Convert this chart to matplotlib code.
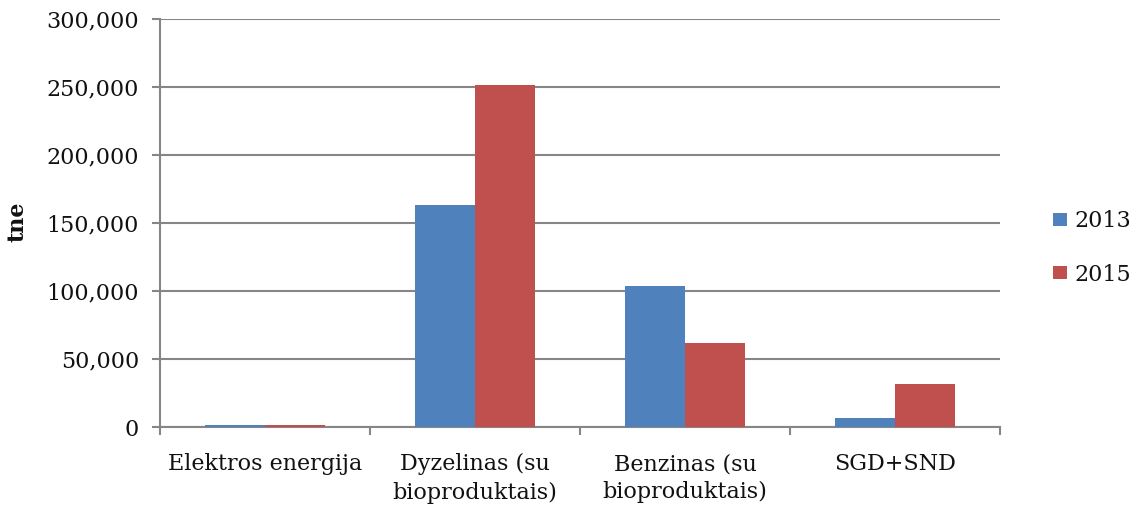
import numpy as np
import matplotlib.pyplot as plt
from matplotlib.ticker import FuncFormatter, FixedLocator

categories = ["Elektros energija", "Dyzelinas (su\nbioproduktais)",
              "Benzinas (su\nbioproduktais)", "SGD+SND"]
years = ["2013", "2015"]
values_2013 = [1500, 163500, 104000, 6500]
values_2015 = [1800, 251500, 62000, 31500]

colors = ["#4F81BD", "#C0504D"]
grid_color = "#868686"
text_color = "#111111"

plt.rcParams['font.family'] = ['DejaVu Serif']

W, H = 1141, 509
fig = plt.figure(figsize=(W / 100, H / 100), dpi=100)
ax = fig.add_axes([160 / W, 1 - 427 / H, 840 / W, 408 / H])

x = np.arange(len(categories))
w = 1 / 3.5
ax.bar(x - w / 2, values_2013, w, color=colors[0], label=years[0], zorder=3)
ax.bar(x + w / 2, values_2015, w, color=colors[1], label=years[1], zorder=3)

ax.set_xlim(-0.5, len(categories) - 0.5)
ax.set_ylim(0, 300000)
ax.set_yticks(np.arange(0, 300001, 50000))
ax.yaxis.set_major_formatter(FuncFormatter(lambda v, p: f"{int(v):,}"))
ax.yaxis.grid(True, color=grid_color, linewidth=1.5, zorder=0)

# category labels sit between the boundary ticks
ax.set_xticks(x)
ax.set_xticklabels(categories, fontsize=16, color=text_color, linespacing=1.35)
ax.tick_params(axis='x', length=0, pad=19)
ax.xaxis.set_minor_locator(FixedLocator(np.arange(-0.5, len(categories), 1)))
ax.tick_params(axis='x', which='minor', length=6, width=1.5, color=grid_color)
ax.tick_params(axis='y', length=6, width=1.5, color=grid_color,
               labelsize=16, labelcolor=text_color, pad=9)

for side in ['top', 'right']:
    ax.spines[side].set_visible(False)
for side in ['left', 'bottom']:
    ax.spines[side].set_color(grid_color)
    ax.spines[side].set_linewidth(1.5)

ax.set_ylabel("tne", fontsize=16, fontweight='bold', color=text_color)
ax.yaxis.set_label_coords(29 / W, 1 - 222 / H, transform=fig.transFigure)

ax.legend(loc='center left', bbox_to_anchor=(1053 / W, 1 - 248 / H),
          bbox_transform=fig.transFigure, borderaxespad=0, borderpad=0,
          frameon=False, fontsize=16, handlelength=0.65, handleheight=0.55,
          handletextpad=0.3, labelspacing=1.4, labelcolor=text_color)

fig.savefig("out.png", dpi=100)
